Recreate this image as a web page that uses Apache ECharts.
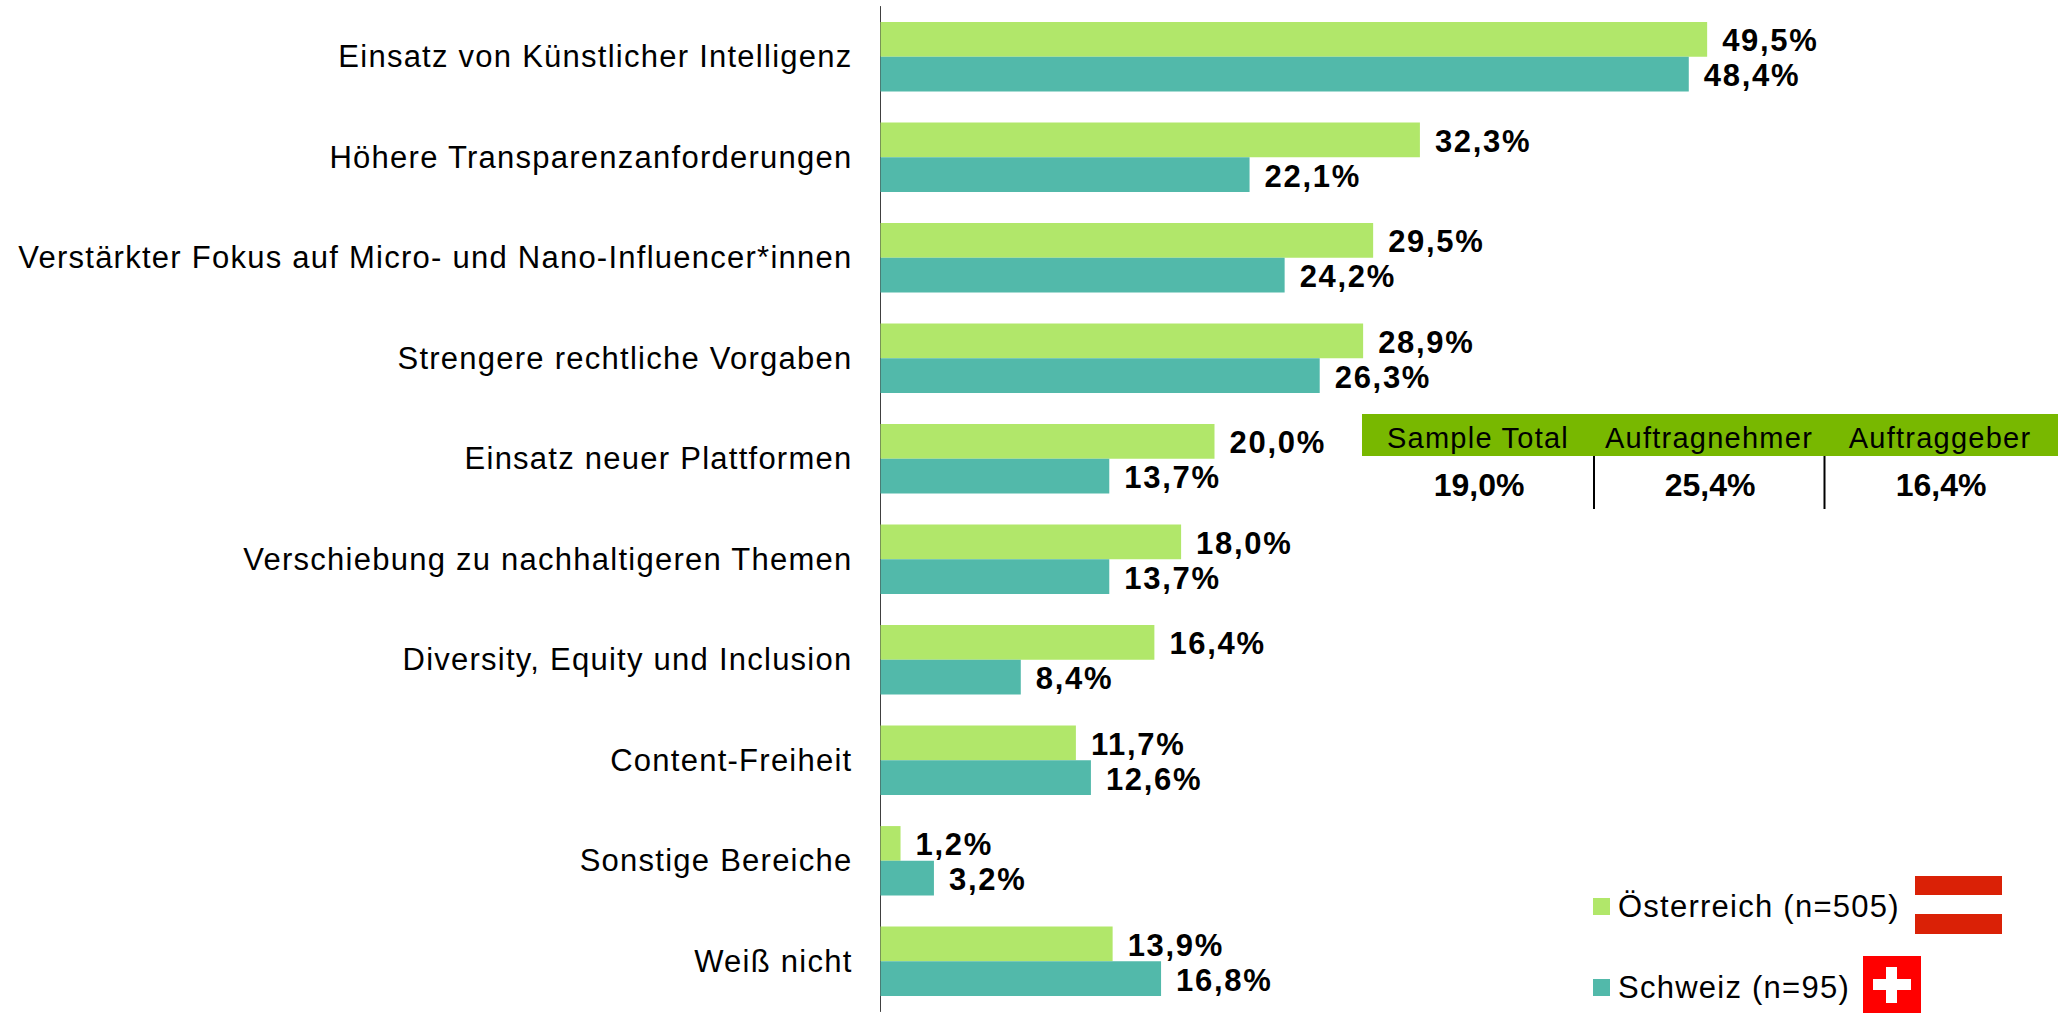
<!DOCTYPE html>
<html><head><meta charset="utf-8">
<style>html,body{margin:0;padding:0;background:#fff}#c{width:2067px;height:1013px}#c svg text{letter-spacing:1.25px}#c svg text[style*="bold"]{letter-spacing:1.7px}#c svg text[style*="32px"]{letter-spacing:0}</style>
<script src="https://cdn.jsdelivr.net/npm/echarts@6/dist/echarts.min.js"></script>
</head><body><div id="c"></div>
<script>
const categories = ['Einsatz von Künstlicher Intelligenz','Höhere Transparenzanforderungen','Verstärkter Fokus auf Micro- und Nano-Influencer*innen','Strengere rechtliche Vorgaben','Einsatz neuer Plattformen','Verschiebung zu nachhaltigeren Themen','Diversity, Equity und Inclusion','Content-Freiheit','Sonstige Bereiche','Weiß nicht'];
const austria = [49.5,32.3,29.5,28.9,20.0,18.0,16.4,11.7,1.2,13.9];
const swiss = [48.4,22.1,24.2,26.3,13.7,13.7,8.4,12.6,3.2,16.8];
const seriesNames = ['Österreich (n=505)','Schweiz (n=95)'];
const tableHeaders = ['Sample Total','Auftragnehmer','Auftraggeber'];
const tableValues = ['19,0%','25,4%','16,4%'];
const FF = '"Liberation Sans", Arial, sans-serif';
const fmt = v => v.toFixed(1).replace('.', ',') + '%';
const chart = echarts.init(document.getElementById('c'), null, {renderer:'svg'});
const lbl = {show:true, position:'right', distance:15, offset:[0,1.5], fontFamily:FF, fontSize:31, fontWeight:'bold', color:'#000', formatter:p=>fmt(p.value)};
const tx = [1478,1709,1940];
chart.setOption({
  animation:false,
  backgroundColor:'#fff',
  grid:{left:880.5, top:6.5, width:1002, height:1005, containLabel:false},
  xAxis:{type:'value', min:0, max:60, show:false},
  yAxis:{type:'category', data:categories, inverse:true,
    axisLine:{show:true, lineStyle:{color:'#404040', width:1}}, axisTick:{show:false},
    axisLabel:{margin:28, fontFamily:FF, fontSize:31, color:'#000', padding:[6,0,0,0]}},
  legend:{orient:'vertical', left:1588, top:886, itemWidth:17, itemHeight:17, itemGap:50, icon:'rect',
    data:seriesNames, textStyle:{fontFamily:FF, fontSize:31, color:'#000', lineHeight:30, padding:[0,0,0,3]}},
  series:[
    {name:seriesNames[0], type:'bar', data:austria, barGap:0, barCategoryGap:'31%', itemStyle:{color:'#B1E76A'}, label:lbl},
    {name:seriesNames[1], type:'bar', data:swiss, itemStyle:{color:'#52B9AA'}, label:lbl}
  ],
  graphic:[
    {type:'rect', shape:{x:1362,y:414,width:696,height:42}, style:{fill:'#78B800'}},
    ...tableHeaders.map((t,i)=>({type:'text', x:tx[i], y:438, style:{text:t, fontFamily:FF, fontSize:29, fill:'#000', align:'center', verticalAlign:'middle'}})),
    ...tableValues.map((t,i)=>({type:'text', x:tx[i]+1, y:484.5, style:{text:t, fontFamily:FF, fontSize:32, fontWeight:'bold', fill:'#000', align:'center', verticalAlign:'middle'}})),
    {type:'line', shape:{x1:1594,y1:456,x2:1594,y2:509}, style:{stroke:'#000', lineWidth:2}},
    {type:'line', shape:{x1:1824.5,y1:456,x2:1824.5,y2:509}, style:{stroke:'#000', lineWidth:2}},
    {type:'rect', shape:{x:1915,y:876,width:87,height:19}, style:{fill:'#DA2106'}},
    {type:'rect', shape:{x:1915,y:914,width:87,height:20}, style:{fill:'#DA2106'}},
    {type:'rect', shape:{x:1863,y:956,width:58,height:57}, style:{fill:'#FF0000'}},
    {type:'rect', shape:{x:1886,y:967,width:11,height:36}, style:{fill:'#fff'}},
    {type:'rect', shape:{x:1873,y:979,width:38,height:11}, style:{fill:'#fff'}}
  ]
});
</script></body></html>
